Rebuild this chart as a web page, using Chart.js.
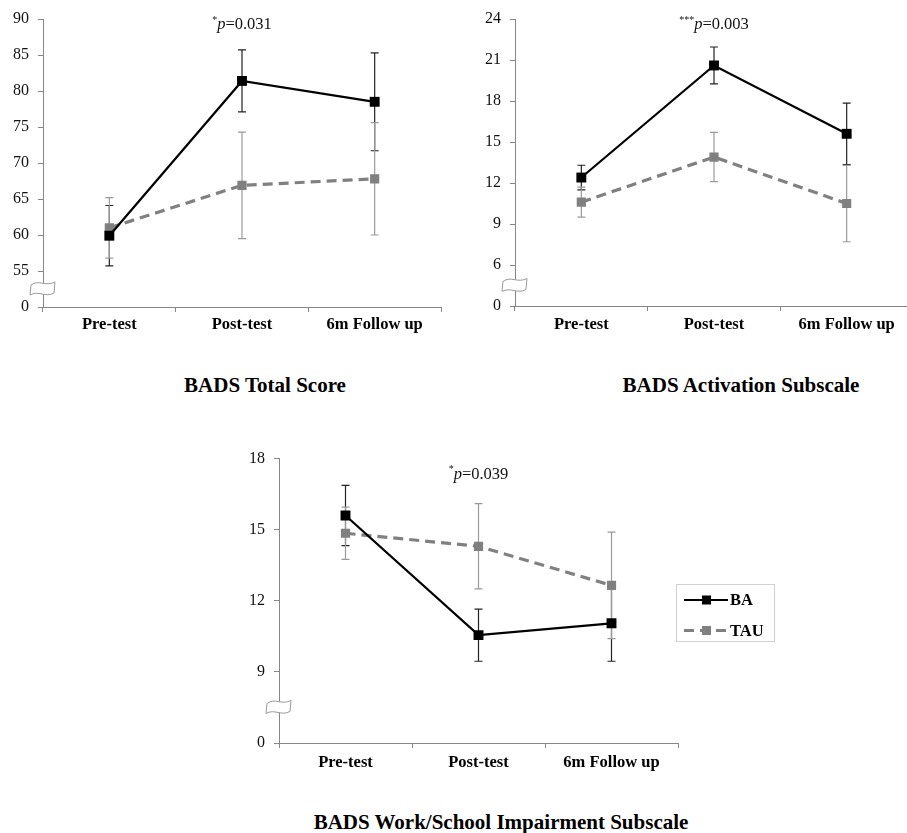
<!DOCTYPE html>
<html>
<head>
<meta charset="utf-8">
<script src="https://cdn.jsdelivr.net/npm/chart.js@4.4.1/dist/chart.umd.min.js"></script>
<style>
  body { margin: 0; background: #fff; }
  #page { position: relative; width: 907px; height: 833px; overflow: hidden; background: #fff; }
  canvas { position: absolute; }
  .title {
    position: absolute;
    font-family: 'Liberation Serif', 'Times New Roman', serif;
    font-weight: bold;
    font-size: 21px;
    color: #000;
    text-align: center;
    white-space: nowrap;
  }
</style>
</head>
<body>
<div id="page">
  <canvas id="total" width="450" height="340" style="left:0;top:0"></canvas>
  <canvas id="activation" width="470" height="340" style="left:450px;top:0"></canvas>
  <canvas id="work" width="560" height="340" style="left:230px;top:440px"></canvas>
  <div class="title" style="left:115px;top:373px;width:300px">BADS Total Score</div>
  <div class="title" style="left:591px;top:373px;width:300px">BADS Activation Subscale</div>
  <div class="title" style="left:301px;top:810px;width:400px">BADS Work/School Impairment Subscale</div>
</div>
<script>
// shared data
const categories = ['Pre-test', 'Post-test', '6m Follow up'];
const seriesNames = ['BA', 'TAU'];

// BADS Total Score
const totalTicks = [0, 55, 60, 65, 70, 75, 80, 85, 90];
const totalBA = [59.9, 81.4, 78.5];
const totalBAErr = [4.2, 4.3, 6.8];
const totalTAU = [61.0, 66.9, 67.8];
const totalTAUErr = [4.2, 7.4, 7.8];

// BADS Activation Subscale
const actTicks = [0, 6, 9, 12, 15, 18, 21, 24];
const actBA = [12.4, 20.6, 15.6];
const actBAErr = [0.9, 1.35, 2.25];
const actTAU = [10.6, 13.9, 10.5];
const actTAUErr = [1.1, 1.8, 2.8];

// BADS Work/School Impairment Subscale
const workTicks = [0, 9, 12, 15, 18];
const workBA = [15.6, 10.55, 11.05];
const workBAErr = [1.27, 1.1, 1.6];
const workTAU = [14.85, 14.3, 12.65];
const workTAUErr = [1.1, 1.8, 2.25];

const SERIF = "'Liberation Serif', 'Times New Roman', serif";
const AXIS_GREY = '#868686';

// broken axis: 0 sits one step below the first real tick
function toAxis(ticks, v) {
  if (v <= 0) return 0;
  return 1 + (v - ticks[1]) / (ticks[2] - ticks[1]);
}

const errorBars = {
  id: 'errorBars',
  beforeDatasetsDraw(chart) {
    const ctx = chart.ctx;
    const y = chart.scales.y;
    chart.data.datasets.forEach((ds, i) => {
      const meta = chart.getDatasetMeta(i);
      ctx.save();
      ctx.strokeStyle = ds.errColor;
      ctx.lineWidth = 1.2;
      meta.data.forEach((pt, j) => {
        const raw = ds.rawValues[j];
        const e = ds.errors[j];
        const top = y.getPixelForValue(toAxis(ds.ticks, raw + e));
        const bot = y.getPixelForValue(toAxis(ds.ticks, raw - e));
        ctx.beginPath();
        ctx.moveTo(pt.x, top); ctx.lineTo(pt.x, bot);
        ctx.moveTo(pt.x - 4, top); ctx.lineTo(pt.x + 4, top);
        ctx.moveTo(pt.x - 4, bot); ctx.lineTo(pt.x + 4, bot);
        ctx.stroke();
      });
      ctx.restore();
    });
  }
};

const extras = {
  id: 'extras',
  afterDraw(chart, args, opts) {
    const ctx = chart.ctx;
    const x = chart.scales.x;
    const y = chart.scales.y;

    // axis break mark
    const bx = x.left;
    const by = y.getPixelForValue(0.5);
    ctx.save();
    ctx.beginPath();
    ctx.moveTo(bx - 12, by - 4);
    ctx.bezierCurveTo(bx - 4, by - 10, bx + 2, by - 2, bx + 12, by - 7);
    ctx.lineTo(bx + 11, by + 4);
    ctx.bezierCurveTo(bx + 2, by + 9, bx - 4, by + 1, bx - 13, by + 6);
    ctx.closePath();
    ctx.fillStyle = '#fff';
    ctx.fill();
    ctx.strokeStyle = '#999';
    ctx.lineWidth = 1;
    ctx.beginPath();
    ctx.moveTo(bx - 12, by - 4);
    ctx.bezierCurveTo(bx - 4, by - 10, bx + 2, by - 2, bx + 12, by - 7);
    ctx.moveTo(bx + 11, by + 4);
    ctx.bezierCurveTo(bx + 2, by + 9, bx - 4, by + 1, bx - 13, by + 6);
    ctx.moveTo(bx - 12, by - 4); ctx.lineTo(bx - 13, by + 6);
    ctx.moveTo(bx + 12, by - 7); ctx.lineTo(bx + 11, by + 4);
    ctx.stroke();
    ctx.restore();

    // significance note above post-test
    const cx = x.getPixelForValue(1);
    const cy = chart.chartArea.top + opts.noteOffset;
    ctx.save();
    ctx.fillStyle = '#111';
    ctx.textBaseline = 'middle';
    ctx.font = '10px ' + SERIF;
    const starW = ctx.measureText(opts.stars).width;
    ctx.font = 'italic 16.5px ' + SERIF;
    const pW = ctx.measureText('p').width;
    ctx.font = '16.5px ' + SERIF;
    const restW = ctx.measureText(opts.value).width;
    let sx = cx - (starW + pW + restW) / 2;
    ctx.font = '10px ' + SERIF;
    ctx.fillText(opts.stars, sx, cy - 5);
    sx += starW;
    ctx.font = 'italic 16.5px ' + SERIF;
    ctx.fillText('p', sx, cy);
    sx += pW;
    ctx.font = '16.5px ' + SERIF;
    ctx.fillText(opts.value, sx, cy);
    ctx.restore();

    if (!opts.legend) return;
    // legend box
    const lg = opts.legend;
    ctx.save();
    ctx.strokeStyle = '#d0d0d0';
    ctx.lineWidth = 1;
    ctx.strokeRect(lg.x + 0.5, lg.y + 0.5, 98, 57);
    chart.data.datasets.forEach((ds, i) => {
      const ly = lg.y + 16 + i * 30.5;
      ctx.strokeStyle = ds.borderColor;
      ctx.lineWidth = ds.borderWidth;
      ctx.setLineDash(ds.borderDash || []);
      ctx.beginPath();
      ctx.moveTo(lg.x + 8, ly); ctx.lineTo(lg.x + 52, ly);
      ctx.stroke();
      ctx.setLineDash([]);
      ctx.fillStyle = ds.pointBackgroundColor;
      ctx.fillRect(lg.x + 26, ly - 4.5, 9, 9);
      ctx.fillStyle = '#000';
      ctx.font = 'bold 16.5px ' + SERIF;
      ctx.textBaseline = 'middle';
      ctx.fillText(ds.label, lg.x + 54, ly + 1);
    });
    ctx.restore();
  }
};

function makeChart(id, ticks, ba, baErr, tau, tauErr, box, note) {
  const series = [
    { label: seriesNames[0], raw: ba, err: baErr, color: '#000', errColor: '#222', width: 2.2, dash: [], radius: 7 },
    { label: seriesNames[1], raw: tau, err: tauErr, color: '#808080', errColor: '#9a9a9a', width: 3.2, dash: [10, 6], radius: 6.5 }
  ];
  return new Chart(document.getElementById(id), {
    type: 'line',
    data: {
      labels: categories,
      datasets: series.map(s => ({
        label: s.label,
        data: s.raw.map(v => toAxis(ticks, v)),
        rawValues: s.raw,
        errors: s.err,
        ticks: ticks,
        errColor: s.errColor,
        borderColor: s.color,
        backgroundColor: s.color,
        borderWidth: s.width,
        borderDash: s.dash,
        pointStyle: 'rect',
        pointRadius: s.radius,
        pointBackgroundColor: s.color,
        pointBorderColor: s.color,
        pointBorderWidth: 0,
        tension: 0
      }))
    },
    options: {
      responsive: false,
      devicePixelRatio: 1,
      animation: false,
      layout: { padding: { top: box.top, right: box.right, left: 0, bottom: 0 } },
      plugins: {
        legend: { display: false },
        tooltip: { enabled: false },
        extras: note
      },
      scales: {
        x: {
          type: 'category',
          offset: true,
          afterFit: (scale) => { scale.height = box.xHeight; },
          grid: { offset: true, drawOnChartArea: false, tickLength: 5, color: AXIS_GREY },
          border: { color: AXIS_GREY, width: 1 },
          ticks: { color: '#000', padding: box.xPad, maxRotation: 0, font: { family: SERIF, size: 16.5, weight: 'bold' } }
        },
        y: {
          min: 0,
          max: ticks.length - 1,
          afterFit: (scale) => { scale.width = box.yWidth; },
          grid: { drawOnChartArea: false, tickLength: 5, color: AXIS_GREY },
          border: { color: AXIS_GREY, width: 1 },
          ticks: {
            stepSize: 1,
            padding: 9,
            color: '#111',
            font: { family: SERIF, size: 16 },
            callback: (v) => ticks[v]
          }
        }
      }
    },
    plugins: [errorBars, extras]
  });
}

makeChart('total', totalTicks, totalBA, totalBAErr, totalTAU, totalTAUErr,
  { top: 19, right: 9, yWidth: 43, xHeight: 33, xPad: 3 },
  { stars: '*', value: '=0.031', noteOffset: 6 });

makeChart('activation', actTicks, actBA, actBAErr, actTAU, actTAUErr,
  { top: 19, right: 6, yWidth: 65, xHeight: 34, xPad: 4 },
  { stars: '***', value: '=0.003', noteOffset: 6 });

makeChart('work', workTicks, workBA, workBAErr, workTAU, workTAUErr,
  { top: 16, right: 112, yWidth: 49, xHeight: 37, xPad: 5 },
  { stars: '*', value: '=0.039', noteOffset: 16, legend: { x: 446, y: 144 } });
</script>
</body>
</html>
